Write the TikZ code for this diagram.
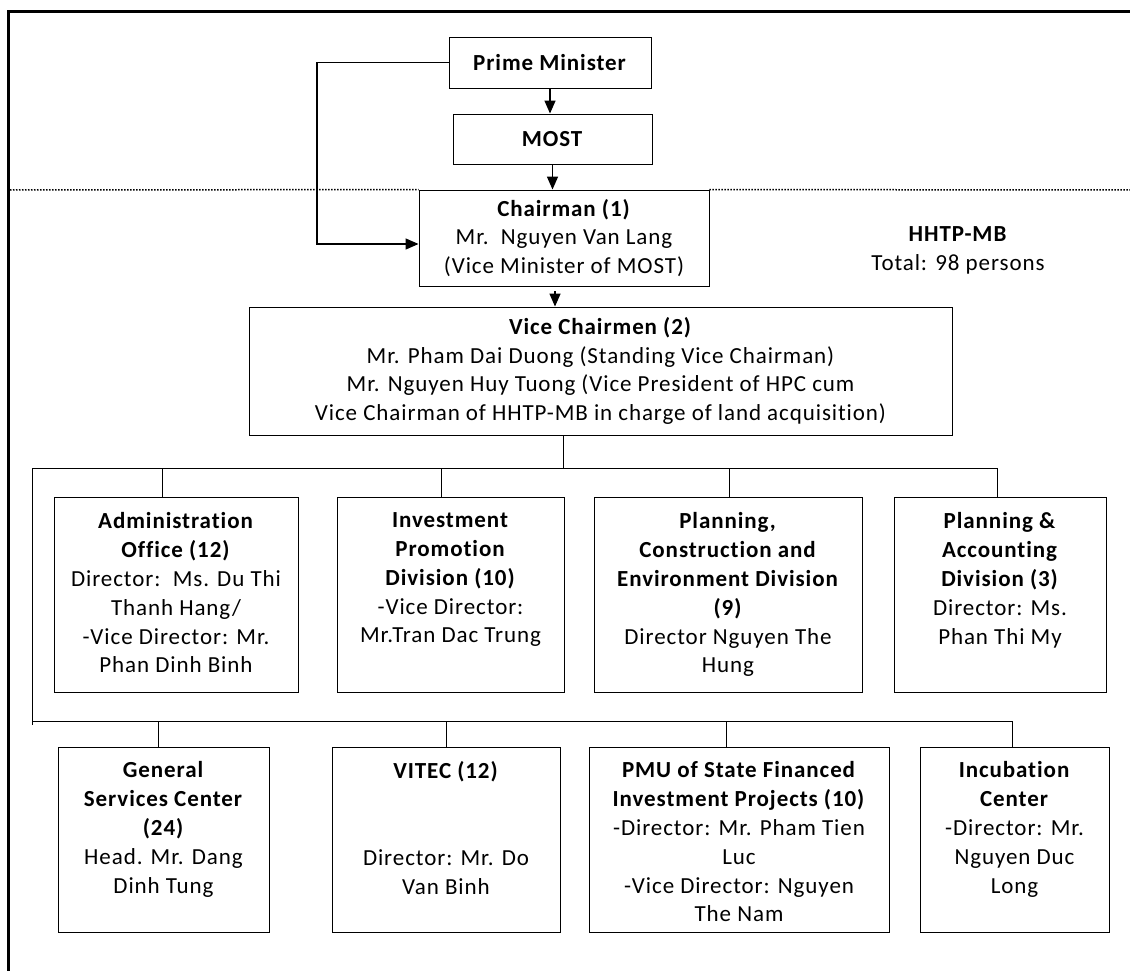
\documentclass[tikz,border=0pt]{standalone}
\usepackage{fontspec}
\setmainfont{Carlito}[LetterSpace=4, Ligatures=NoCommon]
\usepackage{tikz}
\usetikzlibrary{positioning}
\usetikzlibrary{arrows.meta}

\begin{document}
\begin{tikzpicture}[x=1pt,y=-1pt,
		every node/.style={font=\fontsize{23}{28.8}\selectfont, align=center},
		unit/.style={draw, line width=0.9pt, inner sep=0pt},
		txt/.style={inner sep=0pt},
		arr/.style={-{Triangle[length=13pt,width=11pt]}, line width=1.4pt},
		link/.style={line width=0.9pt},
		dots/.style={line width=1.5pt, dash pattern=on 1.5pt off 1.5pt}]
	\useasboundingbox (0,0) rectangle (1130,971);
	% frame
	\draw[line width=3pt] (8,971) -- (8,12) -- (1130,12);
	% top of the chart
	\node[unit, minimum width=202pt, minimum height=51pt] (pm) at (550,62.5) {\textbf{Prime Minister}};
	\node[unit, minimum width=199pt, minimum height=50pt] (most) at (552.5,139) {\textbf{MOST}};
	\node[unit, minimum width=290pt, minimum height=96pt] (chair) at (564,238) {\textbf{Chairman (1)}\\ Mr.~~Nguyen Van Lang\\ (Vice Minister of MOST)};
	\node[unit, minimum width=703pt, minimum height=128pt] (vice) at (600.5,371) {\textbf{Vice Chairmen (2)}\\ Mr. Pham Dai Duong (Standing Vice Chairman)\\ Mr. Nguyen Huy Tuong (Vice President of HPC cum\\ Vice Chairman of HHTP-MB in charge of land acquisition)};
	\node[txt] (hhtp) at (958,250) {\textbf{HHTP-MB}\\ Total: 98 persons};
	% divisions
	\node[unit, minimum width=244pt, minimum height=195pt] (admin) at (176,594.5) {};
	\node[unit, minimum width=227pt, minimum height=195pt] (invest) at (450.5,594.5) {};
	\node[unit, minimum width=268pt, minimum height=195pt] (plan) at (728,594.5) {};
	\node[unit, minimum width=212pt, minimum height=195pt] (acct) at (1000,594.5) {};
	\node[txt, below=16pt of admin.north] (admin-t) {\textbf{Administration}\\ \textbf{Office (12)}\\ Director:~~Ms. Du Thi\\ Thanh Hang/\\ -Vice Director: Mr.\\ Phan Dinh Binh};
	\node[txt, below=16pt of invest.north] (invest-t) {\textbf{Investment}\\ \textbf{Promotion}\\ \textbf{Division (10)}\\ -Vice Director:\\ Mr.Tran Dac Trung};
	\node[txt, below=16pt of plan.north] (plan-t) {\textbf{Planning,}\\ \textbf{Construction and}\\ \textbf{Environment Division}\\ \textbf{(9)}\\ Director Nguyen The\\ Hung};
	\node[txt, below=16pt of acct.north] (acct-t) {\textbf{Planning \&}\\ \textbf{Accounting}\\ \textbf{Division (3)}\\ Director: Ms.\\ Phan Thi My};
	% centers
	\node[unit, minimum width=211pt, minimum height=185pt] (gsc) at (163.5,839.5) {};
	\node[unit, minimum width=228pt, minimum height=185pt] (vitec) at (446,839.5) {};
	\node[unit, minimum width=300pt, minimum height=185pt] (pmu) at (739,839.5) {};
	\node[unit, minimum width=189pt, minimum height=185pt] (incub) at (1014.5,839.5) {};
	\node[txt, below=15pt of gsc.north] (gsc-t) {\textbf{General}\\ \textbf{Services Center}\\ \textbf{(24)}\\ Head. Mr. Dang\\ Dinh Tung};
	\node[txt, below=15pt of vitec.north] (vitec-t) {\textbf{VITEC (12)}\\ ~\\ ~\\ Director: Mr. Do\\ Van Binh};
	\node[txt, below=15pt of pmu.north] (pmu-t) {\textbf{PMU of State Financed}\\ \textbf{Investment Projects (10)}\\ -Director: Mr. Pham Tien\\ Luc\\ -Vice Director: Nguyen\\ The Nam};
	\node[txt, below=15pt of incub.north] (incub-t) {\textbf{Incubation}\\ \textbf{Center}\\ -Director: Mr.\\ Nguyen Duc\\ Long};
	% dotted border of HHTP-MB
	\coordinate (dl) at (10,190);
	\coordinate (dr) at (1130,190);
	\draw[dots] (dl) -- (chair.north west);
	\draw[dots] (chair.north east) -- (dr);
	% arrows
	\coordinate (lp) at (317,62.5);
	\draw[arr] (pm.south) -- (pm.south |- most.north);
	\draw[arr] (most.south) -- (most.south |- chair.north);
	\draw[arr, shorten <=5pt] ([xshift=-9pt]chair.south) -- ([xshift=-9pt]chair.south |- vice.north);
	\draw[arr] (pm.west) -- (lp) |- ([yshift=-6pt]chair.west);
	% buses
	\coordinate (bl1) at (32,468);
	\coordinate (br1) at (998,468);
	\coordinate (bl2) at (32,721);
	\coordinate (br2) at (1012,721);
	\draw[link] (bl1) -- (br1);
	\draw[link] (bl2) -- (br2);
	\draw[link] (bl1) -- ([yshift=-4pt]bl2);
	\draw[link] ([xshift=-37.5pt]vice.south) -- ([xshift=-37.5pt]vice.south |- bl1);
	\foreach \n/\d in {admin/-14, invest/-9.5, plan/1, acct/-3}
		\draw[link] ([xshift=\d pt]\n.north) -- ([xshift=\d pt]\n.north |- bl1);
	\foreach \n/\d in {gsc/-5.5, vitec/0, pmu/-13, incub/-2.5}
		\draw[link] ([xshift=\d pt]\n.north) -- ([xshift=\d pt]\n.north |- bl2);
\end{tikzpicture}
\end{document}
